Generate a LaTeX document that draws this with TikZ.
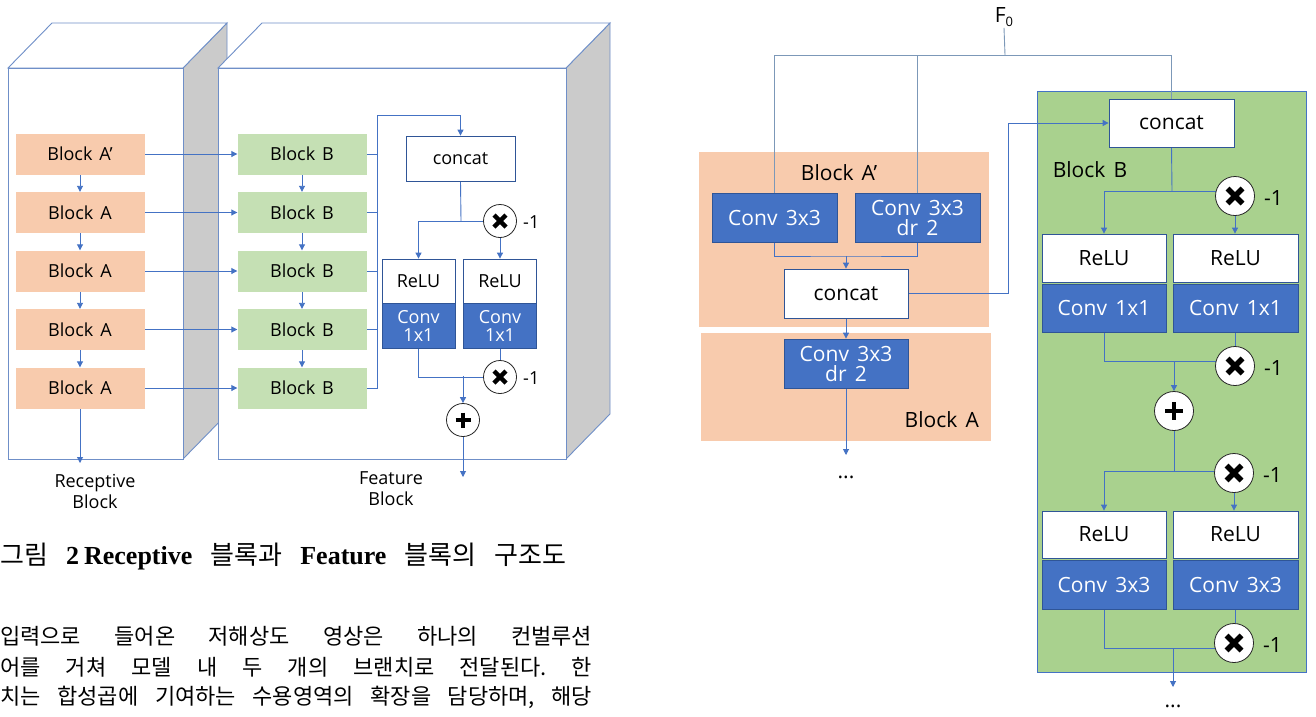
\documentclass[tikz,border=0pt]{standalone}
\usepackage{fontspec}
\setmainfont{Open Sans}[WordSpace=1.5]
\newfontfamily\kr{Noto Sans CJK KR}
\newfontfamily\tbf{Liberation Serif}
\usetikzlibrary{arrows.meta,calc}
\definecolor{peach}{HTML}{F8CBAD}
\definecolor{lgreen}{HTML}{C5E0B4}
\definecolor{mgreen}{HTML}{A9D18E}
\definecolor{oblue}{HTML}{4472C4}
\definecolor{dblue}{HTML}{2F5597}
\definecolor{edgeblue}{HTML}{6F8FC8}
\definecolor{sgray}{HTML}{CBCBCB}
\definecolor{fgray}{HTML}{7C98B8}
\pgfdeclarelayer{back}
\pgfdeclarelayer{lines}
\pgfsetlayers{back,lines,main}
\frenchspacing
\newcommand{\crossat}[3]{\draw[line width=#3, black] (#1.center) ++(-#2,-#2) -- ++({2*#2},{2*#2}) (#1.center) ++(-#2,#2) -- ++({2*#2},{-2*#2});}
\newcommand{\plusat}[3]{\draw[line width=#3, black] (#1.center) ++(-#2,0) -- ++({2*#2},0) (#1.center) ++(0,-#2) -- ++(0,{2*#2});}
\begin{document}
\begin{tikzpicture}[x=1pt,y=-1pt,
  lf/.style={font=\fontsize{18}{21}\selectfont},
  rf/.style={font=\fontsize{21}{24}\selectfont},
  blkA/.style={fill=peach, minimum width=129pt, minimum height=41pt, inner sep=0pt, lf},
  blkB/.style={blkA, fill=lgreen},
  wbox/.style={draw=dblue, fill=white, line width=0.8pt, inner sep=0pt, align=center},
  cbox/.style={draw=dblue, fill=oblue, text=white, line width=0.8pt, inner sep=0pt, align=center},
  ln/.style={draw=oblue, line width=0.9pt},
  arr/.style={ln, -{Triangle[length=6pt,width=6pt]}},
  fln/.style={draw=fgray, line width=0.9pt},
  op/.style={circle, draw=black!85, fill=white, line width=0.8pt, inner sep=0pt, minimum size=#1},
  edge/.style={draw=edgeblue, line width=0.9pt},
  neg/.style={anchor=west, inner sep=0pt}
]
\useasboundingbox (0,0) rectangle (1316,716);

% ---------- 3D boxes ----------
\begin{pgfonlayer}{back}
\fill[white] (0,0) rectangle (1316,716);
% receptive box
\filldraw[edge, fill=sgray] (183,68) -- (227,23) -- (227,414) -- (183,459) -- cycle;
\filldraw[edge, fill=white] (8,68) -- (52,23) -- (227,23) -- (183,68) -- cycle;
\filldraw[edge, fill=white] (8,68) rectangle (183,459);
% feature box
\filldraw[edge, fill=sgray] (566,68) -- (610,23) -- (610,414) -- (566,459) -- cycle;
\filldraw[edge, fill=white] (218,68) -- (262,23) -- (610,23) -- (566,68) -- cycle;
\filldraw[edge, fill=white] (218,68) rectangle (566,459);
% right diagram backgrounds
\node[fill=peach, minimum width=290pt, minimum height=175pt, inner sep=0pt] (bgAp) at (844,239.5) {};
\node[fill=peach, minimum width=290pt, minimum height=108pt, inner sep=0pt] (bgA) at (846,387) {};
\node[fill=mgreen, draw=oblue, line width=0.9pt, minimum width=269pt, minimum height=581pt, inner sep=0pt] (bgB) at (1171.5,381.5) {};
\end{pgfonlayer}

% ---------- left diagram ----------
\foreach \i/\t in {1/Block A’,2/Block A,3/Block A,4/Block A,5/Block A}{
  \node[blkA] (a\i) at (80,{154+58.5*(\i-1)}) {\t};
  \node[blkB] (b\i) at (302,{154+58.5*(\i-1)}) {Block B};
}
\node[wbox, lf, minimum width=109pt, minimum height=45pt] (cc) at (460.5,158.5) {concat};
\node[op=33pt] (m1) at (500,221) {};
\node[neg, lf] (n1) at (523,222) {-1};
\node[wbox, lf, minimum width=73pt, minimum height=44pt] (r1) at (418.5,281) {ReLU};
\node[cbox, lf, minimum width=73pt, minimum height=45pt] (c1) at (418.5,326) {Conv\\[-3pt]1x1};
\node[wbox, lf, minimum width=73pt, minimum height=44pt] (r2) at (500,281) {ReLU};
\node[cbox, lf, minimum width=73pt, minimum height=45pt] (c2) at (500,326) {Conv\\[-3pt]1x1};
\node[op=33pt] (m2) at (500,377) {};
\node[neg, lf] (n2) at (523,378) {-1};
\node[op=33pt] (p1) at (463,420) {};
\node[lf, align=center, inner sep=0pt] (lr) at (95,491) {Receptive\\Block};
\node[lf, align=center, inner sep=0pt] (lfb) at (391,489) {Feature\\Block};
\coordinate (aout) at (80,463);
\coordinate (fout) at (463,477);
\coordinate (busT) at (377,115);
\coordinate (j1) at (461,221);
\coordinate (j2) at (463,376);

\crossat{m1}{6}{4.5pt}
\crossat{m2}{6}{4.5pt}
\plusat{p1}{7.5}{4pt}

\begin{pgfonlayer}{lines}
\foreach \i [evaluate=\i as \j using int(\i+1)] in {1,2,3,4}{
  \draw[arr] (a\i.south) -- (a\j.north);
  \draw[arr] (b\i.south) -- (b\j.north);
}
\foreach \i in {1,...,5}{
  \draw[arr] (a\i.east) -- (b\i.west);
}
\foreach \i in {1,...,4}{
  \draw[ln] (b\i.east) -- (b\i.east -| busT);
}
\draw[arr] (b5.east) -| (busT) -| (cc.north);
\draw[arr] (a5.south) -- (aout);
\draw[ln] (cc.south) -- (j1);
\draw[arr] (j1) -| (r1.north);
\draw[ln] (j1) -- (m1.center);
\draw[arr] (m1.south) -- (r2.north);
\draw[ln] (c1.south) |- (m2.center);
\draw[ln] (c2.south) -- (m2.north);
\draw[arr] (j2) -- (p1.north);
\draw[arr] (p1.south) -- (fout);
\end{pgfonlayer}

% ---------- right diagram ----------
\node[rf, inner sep=1pt] (f0) at (1004,17) {F\raisebox{-4pt}{\fontsize{13}{13}\selectfont 0}};
\node[rf, inner sep=0pt] (lAp) at (839,173) {Block A’};
\node[cbox, rf, minimum width=125pt, minimum height=49pt] (cv1) at (774.5,217.5) {Conv 3x3};
\node[cbox, rf, minimum width=125pt, minimum height=49pt] (cv2) at (917.5,217.5) {Conv 3x3\\[-4pt]dr 2};
\node[wbox, rf, minimum width=124pt, minimum height=49pt] (cl) at (846,293.5) {concat};
\node[cbox, rf, minimum width=124pt, minimum height=49pt] (cv3) at (846,363.5) {Conv 3x3\\[-4pt]dr 2};
\node[rf, anchor=east, inner sep=0pt] (lA) at (979,420) {Block A};
\node[rf, inner sep=0pt] (d1) at (846,477) {...};

\node[wbox, rf, minimum width=125pt, minimum height=48pt] (cr) at (1171.5,123) {concat};
\node[rf, inner sep=0pt] (lB) at (1090,170) {Block B};
\node[op=39pt] (m3) at (1235,196) {};
\node[neg, rf] (n3) at (1264,198) {-1};
\node[wbox, rf, minimum width=124pt, minimum height=48pt] (rr1) at (1104,258) {ReLU};
\node[cbox, rf, minimum width=124pt, minimum height=48pt] (cv4) at (1104,308) {Conv 1x1};
\node[wbox, rf, minimum width=125pt, minimum height=48pt] (rr2) at (1235.5,258) {ReLU};
\node[cbox, rf, minimum width=125pt, minimum height=48pt] (cv5) at (1235.5,308) {Conv 1x1};
\node[op=39pt] (m4) at (1235,366) {};
\node[neg, rf] (n4) at (1264,368) {-1};
\node[op=39pt] (pB) at (1174,411) {};
\node[op=39pt] (m5) at (1234,473) {};
\node[neg, rf] (n5) at (1263,475) {-1};
\node[wbox, rf, minimum width=124pt, minimum height=47pt] (rr3) at (1104,534.5) {ReLU};
\node[cbox, rf, minimum width=124pt, minimum height=49pt] (cv6) at (1104,584.5) {Conv 3x3};
\node[wbox, rf, minimum width=125pt, minimum height=47pt] (rr4) at (1235.5,534.5) {ReLU};
\node[cbox, rf, minimum width=125pt, minimum height=49pt] (cv7) at (1235.5,584.5) {Conv 3x3};
\node[op=39pt] (m6) at (1234,643) {};
\node[neg, rf] (n6) at (1263,645) {-1};
\node[rf, inner sep=0pt] (d2) at (1173,706) {...};

\coordinate (top) at (1005,55);
\coordinate (jA) at (846,256);
\coordinate (bend) at (1008,123);
\coordinate (aend) at (846,455);
\coordinate (jB1) at (1172,191);
\coordinate (jB2) at (1174,361);
\coordinate (jB3) at (1174,471);
\coordinate (jB4) at (1173,648);
\coordinate (bend2) at (1173,687);

\crossat{m3}{7.5}{5.5pt}
\crossat{m4}{7.5}{5.5pt}
\crossat{m5}{7.5}{5.5pt}
\crossat{m6}{7.5}{5.5pt}
\plusat{pB}{9}{4.5pt}

\begin{pgfonlayer}{lines}
\draw[fln] (f0.south) -- (top);
\draw[fln] (cv1.north) |- (cr.north |- top) -- (cr.north);
\draw[fln] (cv2.north) -- (cv2.north |- top);
\draw[ln] (cv1.south) |- (jA) -| (cv2.south);
\draw[arr] (jA) -- (cl.north);
\draw[arr] (cl.south) -- (cv3.north);
\draw[arr] (cv3.south) -- (aend);
\draw[arr] (cl.east) -| (bend) -- (cr.west);
\draw[ln] (cr.south) -- (jB1);
\draw[arr] (jB1) -| (rr1.north);
\draw[ln] (jB1) -- (jB1 -| m3.center);
\draw[arr] (m3.south) -- (m3.south |- rr2.north);
\draw[ln] (cv4.south) |- (jB2) -- (jB2 -| m4.center);
\draw[ln] (cv5.south) -- (cv5.south |- m4.north);
\draw[arr] (jB2) -- (pB.north);
\draw[ln] (pB.south) -- (jB3);
\draw[arr] (jB3) -| (rr3.north);
\draw[ln] (jB3) -- (jB3 -| m5.center);
\draw[arr] (m5.south) -- (m5.south |- rr4.north);
\draw[ln] (cv6.south) |- (jB4) -- (jB4 -| m6.center);
\draw[ln] (cv7.south) -- (cv7.south |- m6.north);
\draw[arr] (jB4) -- (bend2);
\end{pgfonlayer}

% ---------- caption and body text ----------
\node[anchor=west, inner sep=0pt] (cap) at (0,557) {\fontsize{26}{26}\selectfont\makebox[566pt][s]{{\kr 그림} {\tbf\bfseries 2\kern5pt Receptive} {\kr 블록과} {\tbf\bfseries Feature} {\kr 블록의} {\kr 구조도}}};
\node[anchor=west, inner sep=0pt] (t1) at (0,636) {\kr\fontsize{22}{22}\selectfont\makebox[592pt][s]{입력으로 들어온 저해상도 영상은 하나의 컨벌루션}};
\node[anchor=west, inner sep=0pt] (t2) at (0,667) {\kr\fontsize{22}{22}\selectfont\makebox[592pt][s]{어를 거쳐 모델 내 두 개의 브랜치로 전달된다. 한}};
\node[anchor=west, inner sep=0pt] (t3) at (0,697) {\kr\fontsize{22}{22}\selectfont\makebox[592pt][s]{치는 합성곱에 기여하는 수용영역의 확장을 담당하며, 해당}};
\end{tikzpicture}
\end{document}
